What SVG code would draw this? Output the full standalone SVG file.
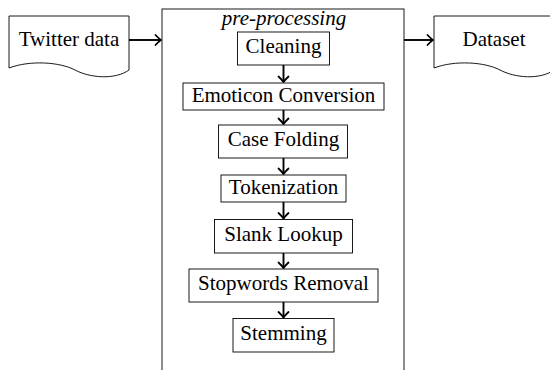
<svg xmlns="http://www.w3.org/2000/svg" width="550" height="370" viewBox="0 0 550 370" font-family="'Times New Roman', 'Liberation Serif', Times, serif">
  <style>
    .box { fill: #fff; stroke: #000; stroke-width: 0.9; }
    .frame { fill: none; stroke: #000; stroke-width: 0.9; }
    text { font-family: 'Times New Roman', 'Liberation Serif', Times, serif; font-size: 21px; fill: #000; text-anchor: middle; }
    .title { font-style: italic; }
    .edge { fill: none; stroke: #000; stroke-width: 1.9; marker-end: url(#tip); }
  </style>
  <defs>
    <marker id="tip" markerUnits="userSpaceOnUse" viewBox="-7 -7 9 14" refX="0" refY="0" markerWidth="9" markerHeight="14" orient="auto">
      <path d="M-5.5,-5 Q-2,-1.3 0,0 Q-2,1.3 -5.5,5" fill="none" stroke="#000" stroke-width="1.8" stroke-linecap="round" stroke-linejoin="round"/>
    </marker>
  </defs>

  <!-- source document -->
  <g id="twitter-data">
    <path class="box" d="M9,16 H129 V70 C115,80 90,78 75,70 S30,60 9,68 Z"/>
    <text x="69" y="46">Twitter data</text>
  </g>

  <!-- pre-processing container -->
  <g id="pre-processing">
    <rect class="frame" x="162" y="9" width="242" height="380"/>
    <text class="title" x="284" y="25">pre-processing</text>
  </g>

  <!-- output document -->
  <g id="dataset">
    <path class="box" d="M434,16 H554 V70 C540,80 515,78 500,70 S455,60 434,68 Z"/>
    <text x="494" y="46">Dataset</text>
  </g>

  <!-- processing steps -->
  <g id="cleaning">
    <rect class="box" x="237.5" y="32" width="92" height="33"/>
    <text x="283.5" y="52.5">Cleaning</text>
  </g>
  <g id="emoticon-conversion">
    <rect class="box" x="183" y="83" width="201" height="27"/>
    <text x="283.5" y="102">Emoticon Conversion</text>
  </g>
  <g id="case-folding">
    <rect class="box" x="218.5" y="125" width="129" height="33"/>
    <text x="283.5" y="145.5">Case Folding</text>
  </g>
  <g id="tokenization">
    <rect class="box" x="221" y="175" width="125" height="27"/>
    <text x="283.5" y="194">Tokenization</text>
  </g>
  <g id="slank-lookup">
    <rect class="box" x="214.5" y="219.5" width="138" height="33.5"/>
    <text x="283.5" y="240.5">Slank Lookup</text>
  </g>
  <g id="stopwords-removal">
    <rect class="box" x="189" y="269" width="189" height="33"/>
    <text x="283.5" y="289.5">Stopwords Removal</text>
  </g>
  <g id="stemming">
    <rect class="box" x="233" y="318.5" width="101" height="33.5"/>
    <text x="283.5" y="339.5">Stemming</text>
  </g>

  <!-- connectors -->
  <g id="connectors">
    <path class="edge" d="M129,40 H161"/>
    <path class="edge" d="M404,40 H433"/>
    <path class="edge" d="M283.5,65 V82"/>
    <path class="edge" d="M283.5,110 V124"/>
    <path class="edge" d="M283.5,158 V174"/>
    <path class="edge" d="M283.5,202 V218.5"/>
    <path class="edge" d="M283.5,253 V268"/>
    <path class="edge" d="M283.5,302 V317.5"/>
  </g>
</svg>
